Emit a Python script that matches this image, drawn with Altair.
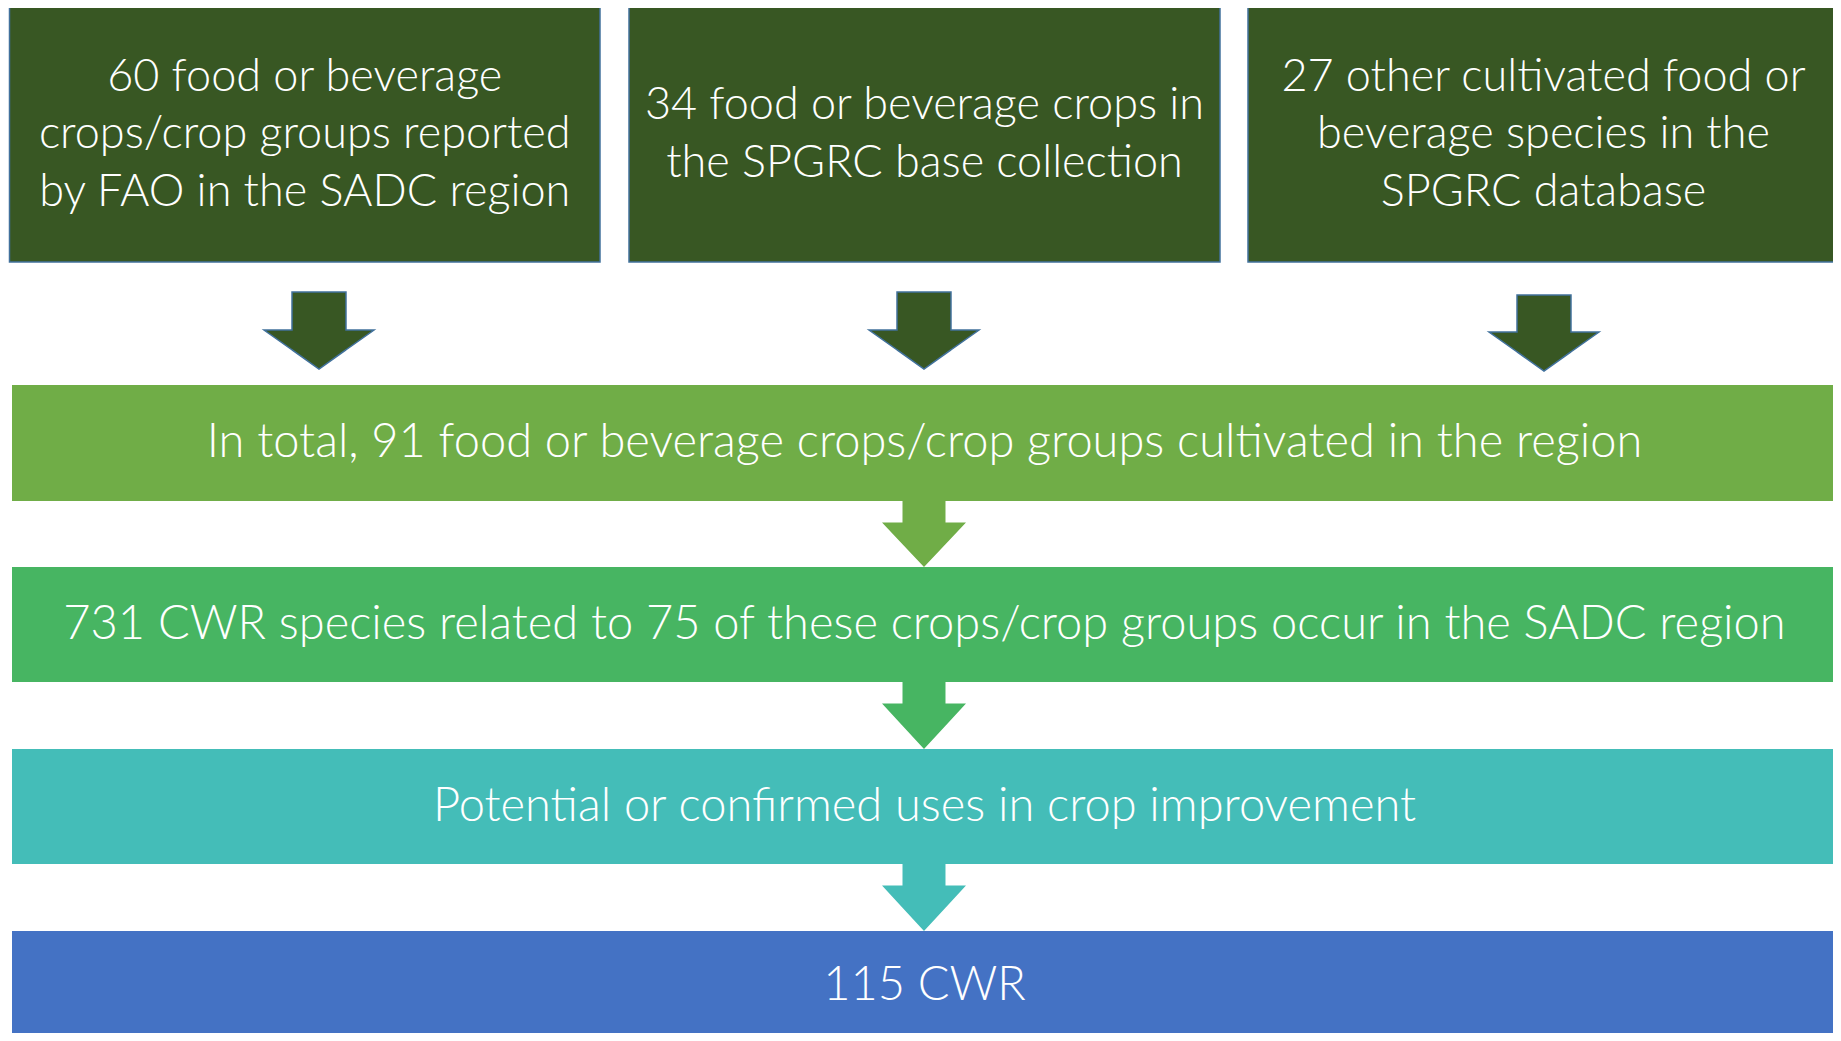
import altair as alt
import pandas as pd

# ---------------- content ----------------
top_texts = [
    ["60 food or beverage", "crops/crop groups reported", "by FAO in the SADC region"],
    ["34 food or beverage crops in", "the SPGRC base collection"],
    ["27 other cultivated food or", "beverage species in the", "SPGRC database"],
]
band_texts = [
    "In total, 91 food or beverage crops/crop groups cultivated in the region",
    "731 CWR species related to 75 of these crops/crop groups occur in the SADC region",
    "Potential or confirmed uses in crop improvement",
    "115 CWR",
]

# ---------------- styles ----------------
DARK = "#385723"
OUTLINE = "#41719C"
band_colors = ["#70AD47", "#47B562", "#44BDB8", "#4472C4"]
FONT = "Lato"
FS_TOP = 45
FS_BAND = 47
LINE_H = 57.5

# ---------------- layout (page pixels) ----------------
M = 8
W, H = 1841 - 2 * M, 1041 - 2 * M
top_x = [(9.5, 600), (629, 1220), (1248, 1839)]
top_y = (6, 262)
arrow_c = [319, 924, 1544]
arrow_t = [292, 292, 295]
arrow_m = [330, 330, 332]
arrow_b = [369, 369, 371]
band_x = (12, 1837)
band_y = [(385, 501), (567, 682), (749, 864), (931, 1041)]
small_c, small_s, small_h = 924, 21.5, 42

xs = alt.Scale(domain=[M, M + W], nice=False, zero=False)
ys = alt.Scale(domain=[M, M + H], nice=False, zero=False, reverse=True)

boxes = pd.DataFrame([
    {"x": a, "x2": b, "y": top_y[0], "y2": top_y[1]} for a, b in top_x
])
bands = pd.DataFrame([
    {"x": band_x[0], "x2": band_x[1], "y": y0, "y2": y1, "fill": band_colors[i]}
    for i, (y0, y1) in enumerate(band_y)
])

EPS = 0.01


def arrow_pts(name, c, s, h, t, m, b):
    # outline of a down arrow as a ranged area: x sorted, y = top edge, y2 = bottom edge
    slope = (b - m) / h
    e = m + slope * (h - s)
    pts = [(c - h, m, m), (c - s, m, e), (c - s + EPS, t, e), (c, t, b),
           (c + s - EPS, t, e), (c + s, m, e), (c + h, m, m)]
    return [{"arrow": name, "x": x, "y": y, "y2": y2} for (x, y, y2) in pts]


dark_rows = []
for i in range(3):
    dark_rows += arrow_pts(f"d{i}", arrow_c[i], 27, 55, arrow_t[i], arrow_m[i], arrow_b[i])
dark = pd.DataFrame(dark_rows)

small_rows = []
for i in range(3):
    t = band_y[i][1]
    small_rows += arrow_pts(f"s{i}", small_c, small_s, small_h, t - 1, t + 21.5, band_y[i + 1][0])
small = pd.DataFrame(small_rows)
small["fill"] = small["arrow"].map({f"s{i}": band_colors[i] for i in range(3)})

trows = []
for i, lines in enumerate(top_texts):
    cx = (top_x[i][0] + top_x[i][1]) / 2
    cy = (top_y[0] + top_y[1]) / 2
    n = len(lines)
    for j, ln in enumerate(lines):
        trows.append({"x": cx, "y": cy + (j - (n - 1) / 2) * LINE_H, "t": ln})
top_text_df = pd.DataFrame(trows)
brows = []
for i, ln in enumerate(band_texts):
    brows.append({"x": (band_x[0] + band_x[1]) / 2,
                  "y": (band_y[i][0] + band_y[i][1]) / 2 + (-0.5 if i == 3 else 0),
                  "t": ln})
band_text_df = pd.DataFrame(brows)


def X(f="x:Q"):
    return alt.X(f, scale=xs, axis=None)


def Y(f="y:Q"):
    return alt.Y(f, scale=ys, axis=None, stack=None)


box_layer = alt.Chart(boxes).mark_rect(fill=DARK, stroke=OUTLINE, strokeWidth=1.5).encode(
    x=X(), x2="x2", y=Y(), y2="y2")

band_layer = alt.Chart(bands).mark_rect(clip=True).encode(
    x=X(), x2="x2", y=Y(), y2="y2", fill=alt.Fill("fill:N", scale=None))

dark_layer = alt.Chart(dark).mark_area(orient="vertical", fill=DARK, stroke=OUTLINE,
                                       strokeWidth=1.5, interpolate="linear").encode(
    x=X(), y=Y(), y2="y2", detail="arrow:N")

small_layer = alt.Chart(small).mark_area(orient="vertical", interpolate="linear").encode(
    x=X(), y=Y(), y2="y2", detail="arrow:N",
    fill=alt.Fill("fill:N", scale=None))

top_text_layer = alt.Chart(top_text_df).mark_text(
    font=FONT, fontWeight=300, fontSize=FS_TOP, color="white",
    align="center", baseline="middle").encode(x=X(), y=Y(), text="t:N")

band_text_layer = alt.Chart(band_text_df).mark_text(
    font=FONT, fontWeight=300, fontSize=FS_BAND, color="white",
    align="center", baseline="middle").encode(x=X(), y=Y(), text="t:N")

chart = alt.layer(box_layer, band_layer, dark_layer, small_layer,
                  top_text_layer, band_text_layer).properties(
    width=W, height=H, padding=0, autosize=alt.AutoSizeParams(type="none"),
    background="white"
).configure_view(stroke=None)

chart.save("out.html", embed_options={"renderer": "svg", "actions": False})
